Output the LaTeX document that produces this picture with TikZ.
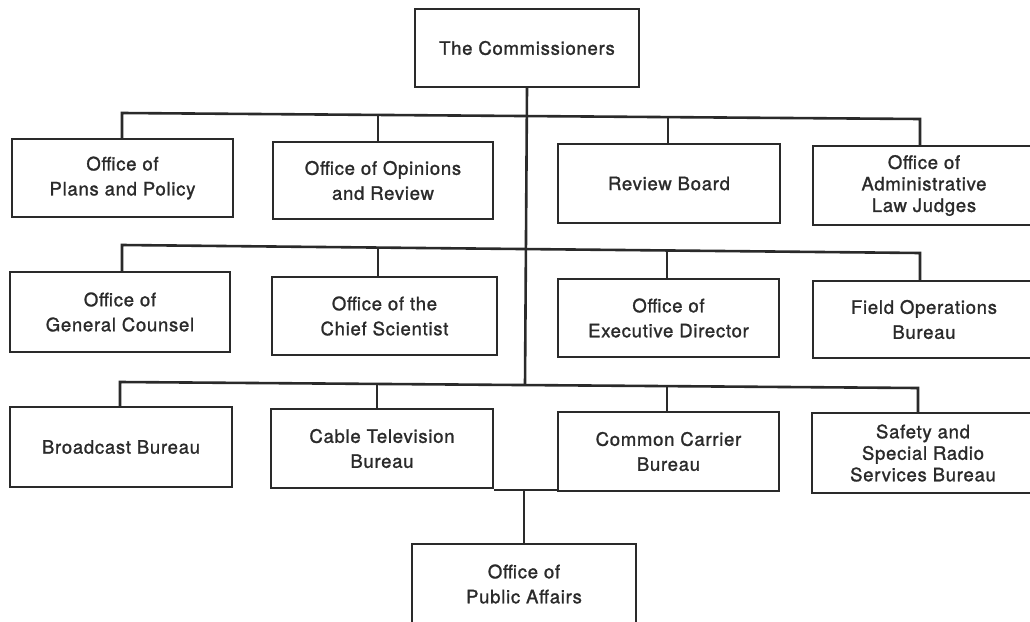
\documentclass[tikz,border=0pt]{standalone}
\usepackage{fontspec}
\setmainfont{TeX Gyre Heros}[LetterSpace=4,FakeBold=1.3]
\definecolor{ink}{HTML}{2A2A2A}
\begin{document}
\begin{tikzpicture}[x=1pt,y=-1pt,
  box/.style={draw=ink,line width=1.8pt,rectangle,inner sep=0pt,
    minimum width=221pt,minimum height=78pt,align=center,text=ink,
    font=\fontsize{18.5}{25}\selectfont},
  tight/.style={font=\fontsize{18.5}{21.5}\selectfont},
  conn/.style={draw=ink,line width=2.6pt}]
\useasboundingbox (0,0) rectangle (1030,621);
\fill[white] (0,0) rectangle (1030,621);
\clip (0,0) rectangle (1030,621);

% boxes
\node[box,minimum width=224pt] (comm) at (527,48) {The Commissioners};

\node[box] (r1a) at (122.5,178) {Office of\\Plans and Policy};
\node[box,minimum width=220pt,minimum height=77pt] (r1b) at (383,180.5) {Office of Opinions\\and Review};
\node[box,minimum width=222pt,minimum height=79pt] (r1c) at (669,183.5) {Review Board};
\node[box,tight,minimum width=222pt,minimum height=79pt] (r1d) at (924,185.5) {Office of\\Administrative\\Law Judges};

\node[box,minimum width=220pt,minimum height=80pt] (r2a) at (120,312) {Office of\\General Counsel};
\node[box,minimum width=225pt] (r2b) at (384.5,316) {Office of the\\Chief Scientist};
\node[box] (r2c) at (668.5,318) {Office of\\Executive Director};
\node[box,minimum width=222pt,minimum height=77pt] (r2d) at (924,319.5) {Field Operations\\Bureau};

\node[box,minimum width=222pt,minimum height=80pt] (r3a) at (121,447) {Broadcast Bureau};
\node[box,minimum width=222pt,minimum height=79pt] (r3b) at (382,448.5) {Cable Television\\Bureau};
\node[box,minimum width=221pt,minimum height=79pt] (r3c) at (668.5,451.5) {Common Carrier\\Bureau};
\node[box,tight,minimum width=222pt,minimum height=80pt] (r3d) at (923,453) {Safety and\\Special Radio\\Services Bureau};

\node[box,minimum width=224pt,minimum height=80pt] (pa) at (524,584) {Office of\\Public Affairs};

% bus points
\coordinate (b1a) at (122,113);
\coordinate (b1b) at (378,115);
\coordinate (b1c) at (668,117);
\coordinate (b1d) at (920,119);
\coordinate (b2a) at (122,245);
\coordinate (b2b) at (378,247.5);
\coordinate (b2c) at (667,250.5);
\coordinate (b2d) at (920,253);
\coordinate (b3a) at (120,382);
\coordinate (b3b) at (377,384);
\coordinate (b3t) at (525,385);
\coordinate (b3c) at (667,386);
\coordinate (b3d) at (918,388);

% trunk
\draw[conn] (comm.south) -- (b3t);

% buses
\draw[conn,line join=miter] (b1a |- r1a.north) -- (b1a) -- (b1d) -- (b1d |- r1d.north);
\draw[conn] (b1b) -- (b1b |- r1b.north);
\draw[conn] (b1c) -- (b1c |- r1c.north);

\draw[conn,line join=miter] (b2a |- r2a.north) -- (b2a) -- (b2d) -- (b2d |- r2d.north);
\draw[conn] (b2b) -- (b2b |- r2b.north);
\draw[conn] (b2c) -- (b2c |- r2c.north);

\draw[conn,line join=miter] (b3a |- r3a.north) -- (b3a) -- (b3d) -- (b3d |- r3d.north);
\draw[conn] (b3b) -- (b3b |- r3b.north);
\draw[conn] (b3c) -- (b3c |- r3c.north);

% public affairs link
\coordinate (jl) at (r3b.east |- 0,489.5);
\coordinate (jr) at (r3c.west |- 0,489.5);
\coordinate (pj) at (pa.north |- 0,489.5);
\draw[draw=ink,line width=2pt] (jl) -- (jr);
\draw[conn] (pj) -- (pa.north);
\end{tikzpicture}
\end{document}
